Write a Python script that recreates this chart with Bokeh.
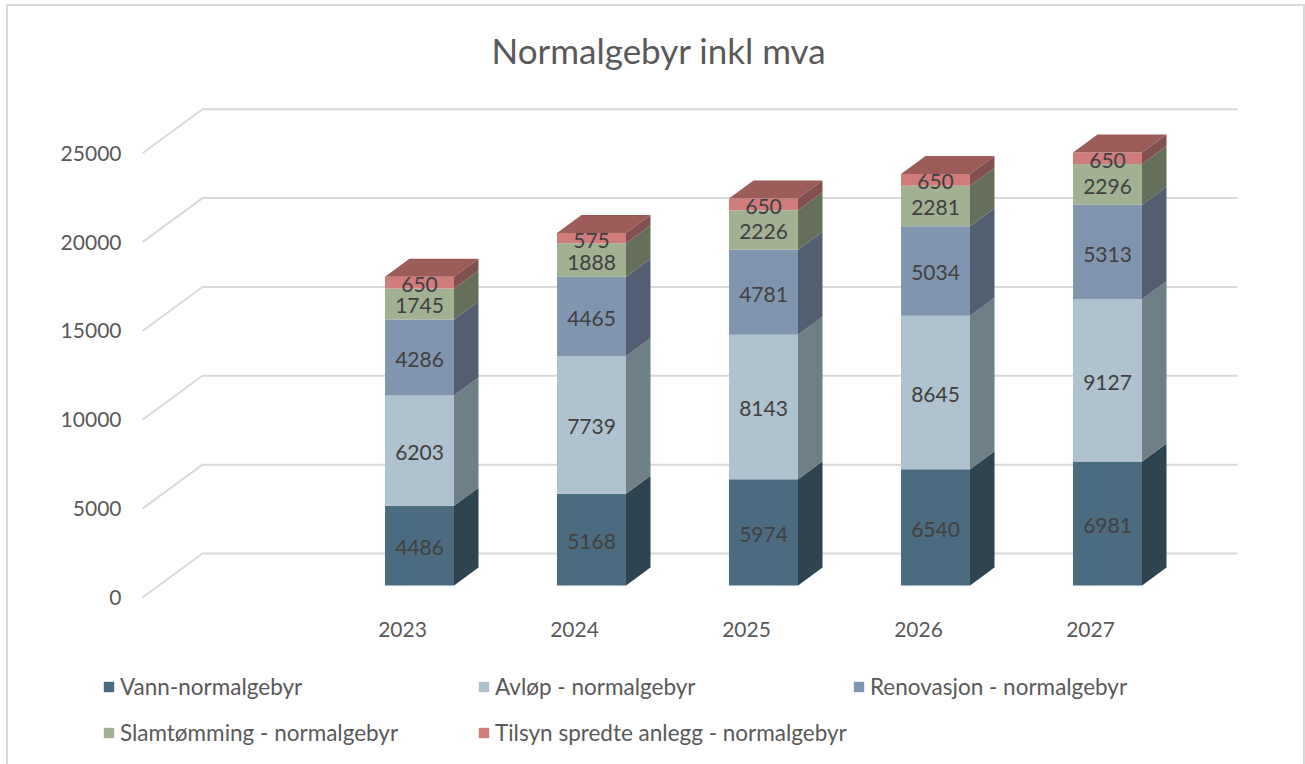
from bokeh.plotting import figure
from bokeh.embed import file_html
from bokeh.resources import INLINE
from bokeh.models import Legend, LegendItem, FixedTicker, ColumnDataSource, Label
from bokeh.core.properties import value

years = [2023, 2024, 2025, 2026, 2027]
vann = [4486, 5168, 5974, 6540, 6981]
avlop = [6203, 7739, 8143, 8645, 9127]
renovasjon = [4286, 4465, 4781, 5034, 5313]
slam = [1745, 1888, 2226, 2281, 2296]
tilsyn = [650, 575, 650, 650, 650]
names = ["Vann-normalgebyr", "Avløp - normalgebyr", "Renovasjon - normalgebyr",
         "Slamtømming - normalgebyr", "Tilsyn spredte anlegg - normalgebyr"]
front = ["#4A6B80", "#AEC2CF", "#8095B0", "#A2B192", "#CF7C7B"]
side = ["#2E4551", "#6E7F88", "#525F73", "#656F5A", "#835050"]
top_face = "#9C5C58"
y_ticks = [0, 5000, 10000, 15000, 20000, 25000]
title = "Normalgebyr inkl mva"
series = [vann, avlop, renovasjon, slam, tilsyn]

FONT = "Lato"
TXT = "#595959"
GRID = "#D9D9D9"
BX, BY = 6, 4                 # page position of the outer box
BW = 2                        # box border width
OX, OY = BX + BW, BY + BW     # page position of the drawing area
W, H = 1299, 760
PAGE_R, PAGE_B = OX + W, OY + H
L, R, B = 142, 1237, 597      # wall extents in page pixels
PX_Y = 0.01777                # pixels per value unit
PX_X = 172.0                  # pixels per year
X0 = 402.0                    # pixel of first year label
TITLE_X, TITLE_Y = 491, 49    # title's left edge and middle, page pixels

# 3-D projection constants, as data offsets
wall_dx, wall_dy = 60 / PX_X, 44 / PX_Y
base_dx, base_dy = 17 / PX_X, 12 / PX_Y
bar_dx, bar_dy = 24.5 / PX_X, 18 / PX_Y
bar_w = 69 / PX_X

p = figure(width=W, height=H, output_backend="svg", toolbar_location=None,
           x_range=(years[0] + (OX - X0) / PX_X, years[0] + (PAGE_R - X0) / PX_X),
           y_range=((B - PAGE_B) / PX_Y, (B - OY) / PX_Y),
           min_border_left=0, min_border_right=0, min_border_bottom=0, min_border_top=0,
           margin=(BY, 0, 0, BX),
           background_fill_color="white", border_fill_color="white",
           outline_line_color=None,
           styles={"border-left": f"{BW}px solid {GRID}", "border-top": f"{BW}px solid {GRID}",
                   "border-right": f"{BW}px solid {GRID}", "box-sizing": "border-box",
                   "overflow": "hidden"})

p.add_layout(Label(x=years[0] + (TITLE_X - X0) / PX_X, y=(B - TITLE_Y) / PX_Y, text=title,
                   text_align="left", text_baseline="middle", text_font=FONT,
                   text_font_size="35px", text_color=TXT))

p.xgrid.visible = False
p.ygrid.visible = False
for ax in (p.xaxis[0], p.yaxis[0]):
    ax.axis_line_color = None
    ax.major_tick_line_color = None
    ax.minor_tick_line_color = None
    ax.major_tick_out = 0
    ax.major_tick_in = 0
    ax.major_label_text_font = FONT
    ax.major_label_text_font_size = "21px"
    ax.major_label_text_color = TXT
x_low = years[0] + (L - X0) / PX_X
x_high = years[0] + (R - X0) / PX_X
x_back = x_low + wall_dx
p.xaxis[0].ticker = FixedTicker(ticks=years)
p.xaxis[0].major_label_overrides = {y: str(y) for y in years}
p.xaxis[0].major_label_standoff = 24
p.xaxis[0].fixed_location = 0
p.yaxis[0].ticker = FixedTicker(ticks=y_ticks)
p.yaxis[0].major_label_standoff = 21
p.yaxis[0].major_label_orientation = "horizontal"
p.yaxis[0].fixed_location = x_low

# walls
p.multi_line(xs=[[x_low, x_back, x_high] for _ in y_ticks],
             ys=[[v, v + wall_dy, v + wall_dy] for v in y_ticks],
             line_color=GRID, line_width=2)

# stacked boxes
renderers = []
cum = [0] * len(years)
for s, vals in enumerate(series):
    lo = [c + base_dy for c in cum]
    hi = [c + v + base_dy for c, v in zip(cum, vals)]
    xc = [y + base_dx for y in years]
    xr = [x + bar_w / 2 for x in xc]
    p.patches(xs=[[x, x + bar_dx, x + bar_dx, x] for x in xr],
              ys=[[a, a + bar_dy, b + bar_dy, b] for a, b in zip(lo, hi)],
              fill_color=side[s], line_color=None)
    r = p.vbar(x=xc, bottom=lo, top=hi, width=bar_w, fill_color=front[s], line_color=None)
    renderers.append(r)
    src = ColumnDataSource(dict(x=xc, y=[(a + b) / 2 for a, b in zip(lo, hi)],
                                t=[str(v) for v in vals]))
    p.text(x="x", y="y", text="t", source=src, text_align="center", text_baseline="middle",
           y_offset=2, text_font=value(FONT), text_font_size="21px", text_color="#404040",
           level="overlay")
    cum = [c + v for c, v in zip(cum, vals)]

# top faces
tops = [c + base_dy for c in cum]
xl = [y + base_dx - bar_w / 2 for y in years]
p.patches(xs=[[x, x + bar_w, x + bar_w + bar_dx, x + bar_dx] for x in xl],
          ys=[[t, t, t + bar_dy, t + bar_dy] for t in tops],
          fill_color=top_face, line_color=None)

# legend columns
def add_legend(idx, px_left, px_bottom):
    lg = Legend(items=[LegendItem(label=value(names[i]), renderers=[renderers[i]]) for i in idx],
                location=(px_left - OX, PAGE_B - px_bottom), orientation="vertical",
                glyph_width=13, glyph_height=13, label_standoff=5, spacing=19,
                margin=0, padding=0, border_line_color=None, background_fill_alpha=0,
                label_text_font=FONT, label_text_font_size="22.5px", label_text_color=TXT,
                click_policy="none")
    p.add_layout(lg, "center")

add_legend([0, 3], 102, 746)
add_legend([1, 4], 477, 746)
add_legend([2], 852, 700)

open("out.html", "w").write(file_html(p, INLINE))
